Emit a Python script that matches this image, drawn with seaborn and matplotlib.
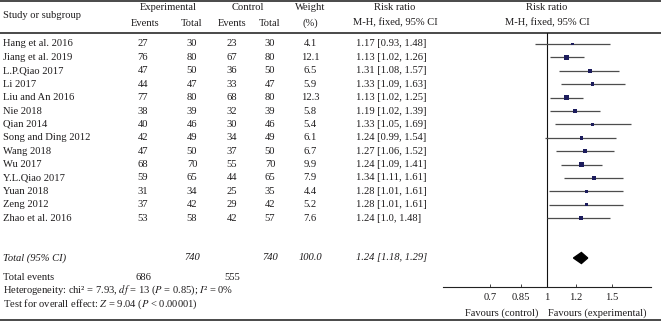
import matplotlib
matplotlib.use("Agg")
import matplotlib.pyplot as plt
import seaborn as sns
import numpy as np

# datos del forest plot
studies = ["Hang et al. 2016", "Jiang et al. 2019", "L.P.Qiao 2017", "Li 2017",
           "Liu and An 2016", "Nie 2018", "Qian 2014", "Song and Ding 2012",
           "Wang 2018", "Wu 2017", "Y.L.Qiao 2017", "Yuan 2018", "Zeng 2012",
           "Zhao et al. 2016"]
exp_events = [27, 76, 47, 44, 77, 38, 40, 42, 47, 68, 59, 31, 37, 53]
exp_total = [30, 80, 50, 47, 80, 39, 46, 49, 50, 70, 65, 34, 42, 58]
ctrl_events = [23, 67, 36, 33, 68, 32, 30, 34, 37, 55, 44, 25, 29, 42]
ctrl_total = [30, 80, 50, 47, 80, 39, 46, 49, 50, 70, 65, 35, 42, 57]
weight = [4.1, 12.1, 6.5, 5.9, 12.3, 5.8, 5.4, 6.1, 6.7, 9.9, 7.9, 4.4, 5.2, 7.6]
rr = [1.17, 1.13, 1.31, 1.33, 1.13, 1.19, 1.33, 1.24, 1.27, 1.24, 1.34, 1.28, 1.28, 1.24]
ci_lo = [0.93, 1.02, 1.08, 1.09, 1.02, 1.02, 1.05, 0.99, 1.06, 1.09, 1.11, 1.01, 1.01, 1.0]
ci_hi = [1.48, 1.26, 1.57, 1.63, 1.25, 1.39, 1.69, 1.54, 1.52, 1.41, 1.61, 1.61, 1.61, 1.48]
ci_text = ["1.17 [0.93, 1.48]", "1.13 [1.02, 1.26]", "1.31 [1.08, 1.57]",
           "1.33 [1.09, 1.63]", "1.13 [1.02, 1.25]", "1.19 [1.02, 1.39]",
           "1.33 [1.05, 1.69]", "1.24 [0.99, 1.54]", "1.27 [1.06, 1.52]",
           "1.24 [1.09, 1.41]", "1.34 [1.11, 1.61]", "1.28 [1.01, 1.61]",
           "1.28 [1.01, 1.61]", "1.24 [1.0, 1.48]"]
total_exp, total_ctrl, total_weight = 740, 740, "100.0"
total_events_exp, total_events_ctrl = 686, 555
total_rr, total_lo, total_hi = 1.24, 1.18, 1.29
total_text = "1.24 [1.18, 1.29]"
xticks = [0.7, 0.85, 1, 1.2, 1.5]
xtick_labels = ["0.7", "0.85", "1", "1.2", "1.5"]

sns.set_theme(style="white")
plt.rcParams['font.family'] = ['Liberation Serif', 'DejaVu Serif']
plt.rcParams['mathtext.fontset'] = 'stix'
fs = 7.6
tc = '#1e1c1d'

fig = plt.figure(figsize=(6.61, 3.23), dpi=100)
ax0 = fig.add_axes([0, 0, 1, 1])
ax0.set_xlim(0, 661)
ax0.set_ylim(323, 0)
ax0.axis('off')

# lineas horizontales
for yy in [1, 32.5, 319.5]:
    ax0.plot([0, 661], [yy, yy], color='#3a3a3a', lw=1.3, solid_capstyle='butt')

# cabeceras
def t(x, y, s, ha='center', style='normal', **kw):
    ax0.text(x, y, s, ha=ha, va='center', fontsize=fs, color=tc, style=style, **kw)

t(3, 16, "Study or subgroup", ha='left')
t(168, 8, "Experimental")
t(248, 8, "Control")
t(310, 8, "Weight")
t(395, 8, "Risk ratio")
t(547, 8, "Risk ratio")
t(145, 23, "Events")
t(192, 23, "Total")
t(232, 23, "Events")
t(270, 23, "Total")
t(310, 23, "(%)")
t(395, 23, "M-H, fixed, 95% CI")
t(547, 23, "M-H, fixed, 95% CI")

ypos = 44 + 13.4 * np.arange(len(studies))
for i, y in enumerate(ypos):
    t(3, y, studies[i], ha='left')
    t(143, y, str(exp_events[i]))
    t(192, y, str(exp_total[i]))
    t(232, y, str(ctrl_events[i]))
    t(270, y, str(ctrl_total[i]))
    t(310, y, f"{weight[i]:.1f}")
    t(356, y, ci_text[i], ha='left')

y_tot = 258
t(3, y_tot, "Total (95% CI)", ha='left', style='italic')
t(192, y_tot, str(total_exp), style='italic')
t(270, y_tot, str(total_ctrl), style='italic')
t(310, y_tot, total_weight, style='italic')
t(356, y_tot, total_text, ha='left', style='italic')

t(3, 277, "Total events", ha='left')
t(143, 277, str(total_events_exp))
t(232, 277, str(total_events_ctrl))

# heterogeneidad y efecto global en un solo bloque de dos lineas
t(3, 297, "Heterogeneity: chi² = 7.93, $df$ = 13 ($P$ = 0.85); $I$² = 0%\n"
          "Test for overall effect: $Z$ = 9.04 ($P$ < 0.00001)",
  ha='left', linespacing=1.05)

# forest plot
ax = fig.add_axes([443 / 661, (323 - 287) / 323, 208 / 661, (287 - 32.5) / 323])
ax.patch.set_alpha(0)
ax.set_xscale('log')
ax.set_xlim(0.522, 1.916)
ax.set_ylim(287, 32.5)
ax.axvline(1, color='#111111', lw=0.8)
ax.hlines(ypos, ci_lo, ci_hi, color='#4d4d4d', lw=0.9)
sns.scatterplot(x=rr, y=ypos, size=weight, sizes=(4.1 * 1.1, 12.3 * 1.1),
                marker='s', color='#1c1c5c', edgecolor='none', legend=False, ax=ax, zorder=3)
ax.fill([total_lo, total_rr, total_hi, total_rr],
        [y_tot, y_tot - 5.5, y_tot, y_tot + 5.5], color='black', zorder=3)

for s in ['top', 'right', 'left']:
    ax.spines[s].set_visible(False)
ax.spines['bottom'].set_color('#222222')
ax.spines['bottom'].set_linewidth(0.8)
ax.set_yticks([])
ax.set_xticks(xticks)
ax.set_xticklabels(xtick_labels)
ax.minorticks_off()
ax.tick_params(axis='x', bottom=True, direction='in', length=2.5, width=0.6,
               color='#222222', pad=4.5, labelsize=fs, labelcolor=tc)
ax.set_xlabel("")
ax.set_ylabel("")

t(538, 313, "Favours (control)", ha='right')
t(548, 313, "Favours (experimental)", ha='left')

fig.savefig("out.png", dpi=100)
